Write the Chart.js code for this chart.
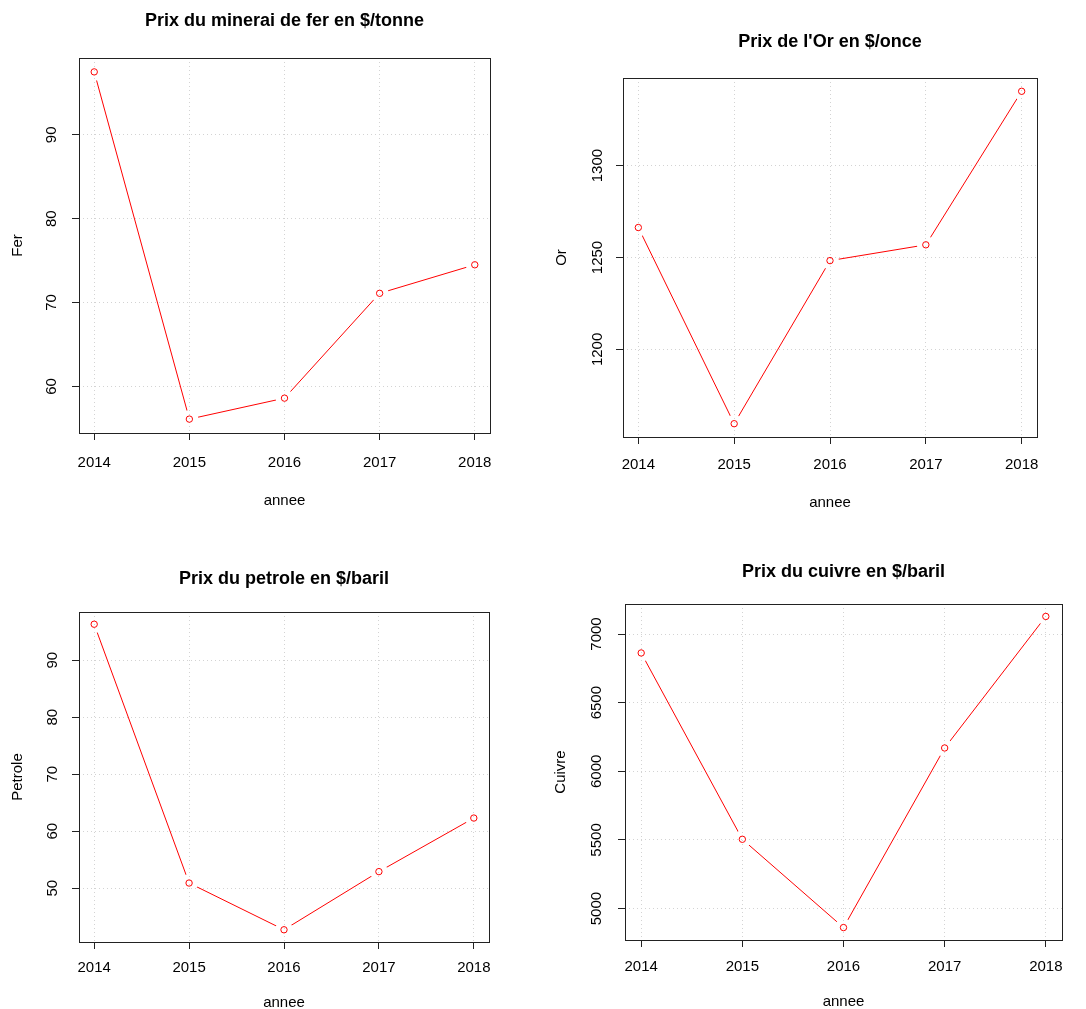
<!DOCTYPE html>
<html>
<head>
<meta charset="utf-8">
<script src="https://cdn.jsdelivr.net/npm/chart.js@4.4.1/dist/chart.umd.min.js"></script>
<style>
  body { margin: 0; background: #fff; width: 1086px; height: 1009px; position: relative; overflow: hidden; }
  .panel { position: absolute; }
  canvas { display: block; }
</style>
</head>
<body>
<div class="panel" style="left:0;top:0"><canvas id="fer" width="543" height="520"></canvas></div>
<div class="panel" style="left:543px;top:0"><canvas id="or" width="543" height="520"></canvas></div>
<div class="panel" style="left:0;top:520px"><canvas id="petrole" width="543" height="500"></canvas></div>
<div class="panel" style="left:543px;top:520px"><canvas id="cuivre" width="543" height="500"></canvas></div>
<script>
// data
const annees = [2014, 2015, 2016, 2017, 2018];
const fer = [97.5, 56.1, 58.6, 71.1, 74.5];
const or = [1266.3, 1159.6, 1248.3, 1256.9, 1340.4];
const petrole = [96.3, 50.9, 42.7, 52.9, 62.3];
const cuivre = [6862, 5505, 4862, 6170, 7128];

const ferTicks = [60, 70, 80, 90];
const orTicks = [1200, 1250, 1300];
const petroleTicks = [50, 60, 70, 80, 90];
const cuivreTicks = [5000, 5500, 6000, 6500, 7000];

const FONT = "'Liberation Sans', Arial, Helvetica, sans-serif";
const TICK_LEN = 7;

const mctx = document.createElement('canvas').getContext('2d');
function textWidth(txt, size) {
    mctx.font = size + 'px ' + FONT;
    return mctx.measureText(txt).width;
}

// R style axis range: data range + 4% each side
function rRange(vals) {
    const lo = Math.min(...vals), hi = Math.max(...vals), d = (hi - lo) * 0.04;
    return [lo - d, hi + d];
}

// gaps in the line around points (type = "b") and the box around the plot
const rStyle = {
    id: 'rStyle',
    beforeDatasetDraw(chart, args) {
        const ds = chart.data.datasets[args.index];
        if (!ds.gap) return;
        const ctx = chart.ctx;
        const pts = chart.getDatasetMeta(args.index).data;
        ctx.save();
        ctx.beginPath();
        ctx.rect(0, 0, chart.width, chart.height);
        pts.forEach(p => {
            ctx.moveTo(p.x + ds.gap, p.y);
            ctx.arc(p.x, p.y, ds.gap, 0, Math.PI * 2);
        });
        ctx.clip('evenodd');
    },
    afterDatasetDraw(chart, args) {
        if (chart.data.datasets[args.index].gap) chart.ctx.restore();
    },
    afterDraw(chart) {
        const a = chart.chartArea, ctx = chart.ctx;
        const l = Math.round(a.left), t = Math.round(a.top);
        ctx.save();
        ctx.strokeStyle = '#222';
        ctx.lineWidth = 1;
        ctx.strokeRect(l + 0.5, t + 0.5, Math.round(a.right) - l, Math.round(a.bottom) - t);
        ctx.restore();
    }
};

function makeChart(id, spec, title, yLabel, values, yTicks) {
    const canvas = document.getElementById(id);
    const w = canvas.width, h = canvas.height;
    const xr = rRange(annees), yr = rRange(values);
    const widest = Math.max(...yTicks.map(v => textWidth(String(v), 15)));
    const tickFont = { family: FONT, size: 15 };

    return new Chart(canvas.getContext('2d'), {
        type: 'line',
        data: {
            labels: annees,
            datasets: [{
                data: values,
                showLine: false,
                pointRadius: 3.2,
                pointBorderWidth: 1,
                pointBorderColor: '#ff0000',
                pointBackgroundColor: 'rgba(0,0,0,0)'
            }, {
                data: values,
                borderColor: '#ff0000',
                borderWidth: 1,
                pointRadius: 0,
                tension: 0,
                gap: 9
            }]
        },
        options: {
            responsive: false,
            animation: false,
            events: [],
            layout: { padding: { left: 0, top: 0, bottom: 0, right: w - spec.r } },
            plugins: {
                legend: { display: false },
                tooltip: { enabled: false },
                title: {
                    display: true,
                    text: title,
                    fullSize: false,
                    color: '#000',
                    font: { family: FONT, size: 18, weight: 'bold', lineHeight: 1.2 },
                    padding: { top: spec.titleY - 10.8, bottom: spec.t - spec.titleY - 10.8 }
                }
            },
            scales: {
                x: {
                    type: 'linear',
                    min: xr[0],
                    max: xr[1],
                    bounds: 'data',
                    afterBuildTicks: s => { s.ticks = annees.map(v => ({ value: v })); },
                    afterFit: s => { s.height = h - spec.b; },
                    grid: { color: '#d3d3d3', lineWidth: 1, tickLength: TICK_LEN, tickColor: '#222', tickWidth: 1 },
                    border: { display: false, dash: [1, 3] },
                    ticks: {
                        color: '#000', font: tickFont, autoSkip: false, maxRotation: 0,
                        padding: spec.xLabY - spec.b - TICK_LEN - 9,
                        callback: v => String(v)
                    },
                    title: {
                        display: true, text: 'annee', color: '#000',
                        font: { family: FONT, size: 15, lineHeight: 1.2 },
                        padding: { top: 0, bottom: h - 9 - spec.xTitleY }
                    }
                },
                y: {
                    type: 'linear',
                    min: yr[0],
                    max: yr[1],
                    bounds: 'data',
                    afterBuildTicks: s => { s.ticks = yTicks.map(v => ({ value: v })); },
                    afterFit: s => { s.width = spec.l; },
                    grid: { color: '#d3d3d3', lineWidth: 1, tickLength: TICK_LEN, tickColor: '#222', tickWidth: 1 },
                    border: { display: false, dash: [1, 3] },
                    ticks: {
                        color: '#000', font: tickFont, autoSkip: false,
                        minRotation: 90, maxRotation: 90, crossAlign: 'center',
                        padding: spec.l - TICK_LEN - widest / 2 - spec.yLabX,
                        callback: v => String(v)
                    },
                    title: {
                        display: true, text: yLabel, color: '#000',
                        font: { family: FONT, size: 15, lineHeight: 1.2 },
                        padding: { top: spec.yTitleX - 9, bottom: 0 }
                    }
                }
            }
        },
        plugins: [rStyle]
    });
}

// panel geometry (canvas local px)
makeChart('fer', { l: 79, r: 490, t: 58, b: 433, titleY: 21, xLabY: 463, xTitleY: 501, yLabX: 52, yTitleX: 18 },
    'Prix du minerai de fer en $/tonne', 'Fer', fer, ferTicks);
makeChart('or', { l: 80, r: 494, t: 78, b: 437, titleY: 42, xLabY: 465, xTitleY: 503, yLabX: 54.5, yTitleX: 19 },
    "Prix de l'Or en $/once", 'Or', or, orTicks);
makeChart('petrole', { l: 79, r: 489, t: 92, b: 422, titleY: 59, xLabY: 448, xTitleY: 483, yLabX: 53, yTitleX: 18 },
    'Prix du petrole en $/baril', 'Petrole', petrole, petroleTicks);
makeChart('cuivre', { l: 82, r: 519, t: 84, b: 420, titleY: 52, xLabY: 447, xTitleY: 482, yLabX: 54, yTitleX: 18 },
    'Prix du cuivre en $/baril', 'Cuivre', cuivre, cuivreTicks);
</script>
</body>
</html>
